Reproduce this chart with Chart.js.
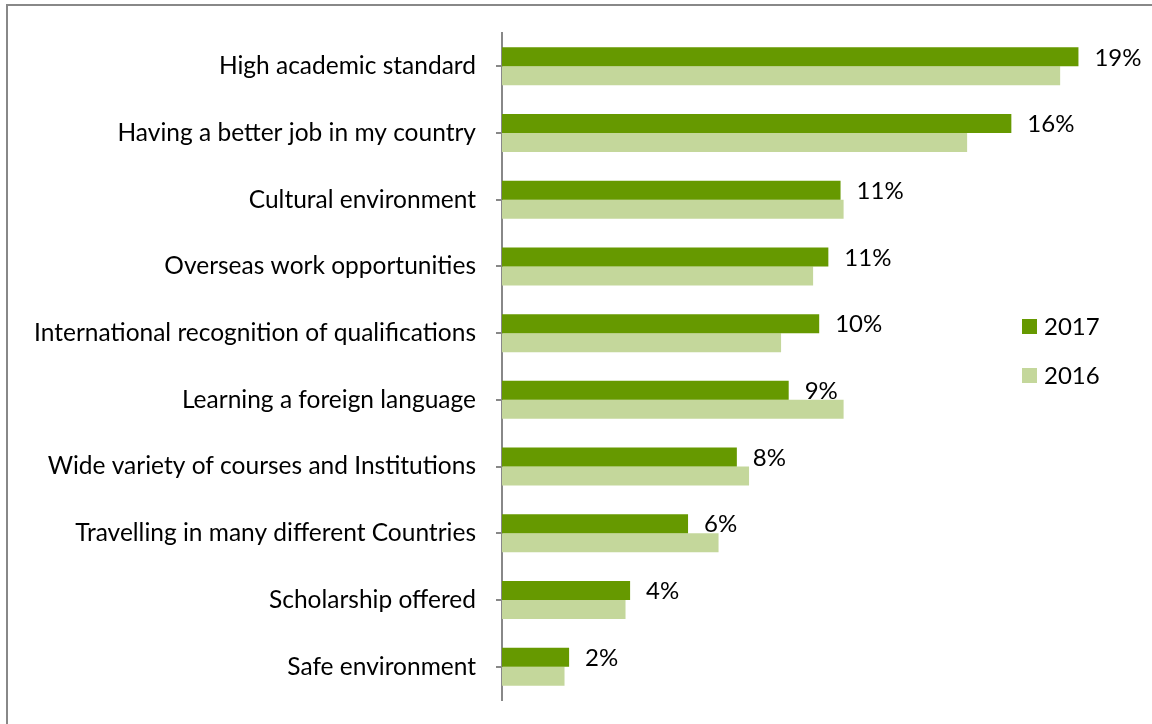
<!DOCTYPE html>
<html>
<head>
<meta charset="utf-8">
<script src="https://cdn.jsdelivr.net/npm/chart.js@4"></script>
<style>
  html, body { margin: 0; padding: 0; background: #fff; }
  #wrap { position: relative; width: 1152px; height: 724px; overflow: hidden; }
  #frame { position: absolute; left: 6px; top: 4px; width: 1200px; height: 800px; border: 2px solid #888; box-sizing: border-box; }
  canvas { position: absolute; left: 0; top: 0; }
</style>
</head>
<body>
<div id="wrap">
  <div id="frame"></div>
  <canvas id="grafico" width="1152" height="724"></canvas>
</div>
<script>
  const categorias = [
    "High academic standard",
    "Having a better job in my country",
    "Cultural environment",
    "Overseas work opportunities",
    "International recognition of qualifications",
    "Learning a foreign language",
    "Wide variety of courses and Institutions",
    "Travelling in many different Countries",
    "Scholarship offered",
    "Safe environment"
  ];
  const valores2017 = [18.9, 16.7, 11.1, 10.7, 10.4, 9.4, 7.7, 6.1, 4.2, 2.2];
  const valores2016 = [18.3, 15.25, 11.2, 10.2, 9.15, 11.2, 8.1, 7.1, 4.05, 2.05];
  const rotulos2017 = ["19%", "16%", "11%", "11%", "10%", "9%", "8%", "6%", "4%", "2%"];

  const fonte = "Lato, 'Noto Sans', sans-serif";

  // rótulos de valor depois da barra escura
  const pluginRotulos = {
    id: "rotulos",
    afterDatasetsDraw(chart) {
      const ctx = chart.ctx;
      const meta = chart.getDatasetMeta(0);
      ctx.save();
      ctx.font = "24px " + fonte;
      ctx.fillStyle = "#000";
      ctx.textAlign = "left";
      ctx.textBaseline = "middle";
      meta.data.forEach((bar, i) => {
        ctx.fillText(rotulos2017[i], bar.x + 16, bar.y + 1);
      });
      ctx.restore();
    }
  };

  // legenda à direita, desenhada a mão
  const pluginLegenda = {
    id: "legendaManual",
    afterDraw(chart) {
      const ctx = chart.ctx;
      ctx.save();
      ctx.font = "24px " + fonte;
      ctx.textBaseline = "middle";
      chart.data.datasets.forEach((ds, i) => {
        const y = 326 + i * 49;
        ctx.fillStyle = ds.backgroundColor;
        ctx.fillRect(1022, y - 7, 15, 15);
        ctx.fillStyle = "#000";
        ctx.fillText(ds.label, 1044, y + 1);
      });
      ctx.restore();
    }
  };

  const ctx = document.getElementById("grafico").getContext("2d");
  new Chart(ctx, {
    type: "bar",
    data: {
      labels: categorias,
      datasets: [
        { label: "2017", data: valores2017, backgroundColor: "#669900" },
        { label: "2016", data: valores2016, backgroundColor: "#c4d79b" }
      ]
    },
    options: {
      indexAxis: "y",
      responsive: false,
      animation: false,
      layout: { padding: { top: 33, bottom: 24, right: 40, left: 0 } },
      datasets: { bar: { barPercentage: 1, categoryPercentage: 0.57 } },
      scales: {
        x: { display: false, min: 0, max: 20 },
        y: {
          afterFit(scale) {
            scale.width = 502;
            scale.paddingTop = 0;
            scale.paddingBottom = 0;
          },
          border: { display: true, color: "#888", width: 2 },
          grid: { drawOnChartArea: false, offset: false, tickLength: 6, color: "#888", lineWidth: 2 },
          ticks: { color: "#000", padding: 20, font: { family: fonte, size: 24.5 } }
        }
      },
      plugins: {
        legend: { display: false },
        tooltip: { enabled: false }
      }
    },
    plugins: [pluginRotulos, pluginLegenda]
  });
</script>
</body>
</html>
